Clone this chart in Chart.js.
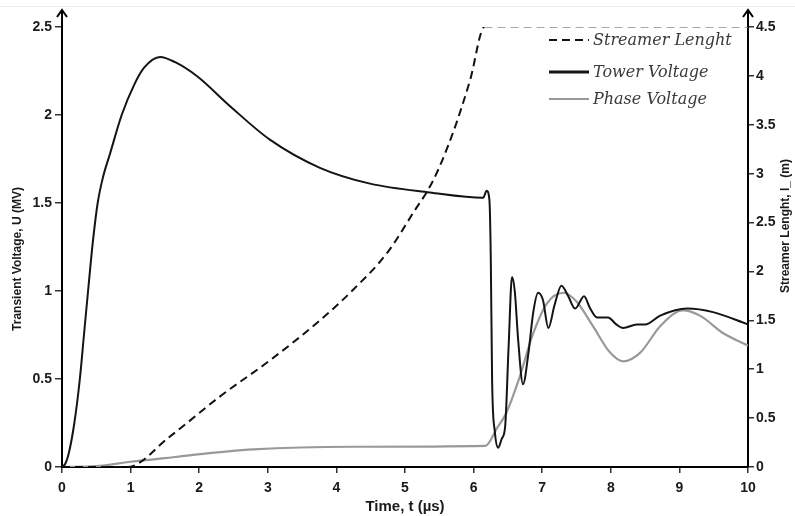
<!DOCTYPE html>
<html>
<head>
<meta charset="utf-8">
<script src="https://cdn.jsdelivr.net/npm/chart.js@4/dist/chart.umd.min.js"></script>
<style>
  body { margin: 0; background: #fff; }
  canvas { display: block; }
</style>
</head>
<body>
<canvas id="chart" width="795" height="516"></canvas>
<script>
// Tower voltage (MV) vs time (us)
let towerTime = [0, 0.05, 0.1, 0.18, 0.26, 0.32, 0.38, 0.45, 0.52, 0.6, 0.7, 0.87, 1.05, 1.2, 1.43, 1.65, 1.97, 2.45, 3.03, 3.76, 4.49, 5.36, 6.14, 6.19, 6.23, 6.25, 6.27, 6.31, 6.36, 6.41, 6.46, 6.51, 6.56, 6.60, 6.65, 6.72, 6.80, 6.87, 6.94, 7.01, 7.09, 7.18, 7.28, 7.38, 7.48, 7.61, 7.70, 7.80, 7.96, 8.08, 8.18, 8.38, 8.50, 8.72, 9.11, 9.49, 10];
let towerVoltage = [0, 0.02, 0.08, 0.25, 0.5, 0.75, 1.0, 1.28, 1.5, 1.65, 1.78, 2.0, 2.17, 2.27, 2.33, 2.30, 2.22, 2.05, 1.86, 1.70, 1.61, 1.56, 1.53, 1.57, 1.52, 1.20, 0.49, 0.20, 0.11, 0.16, 0.23, 0.68, 1.08, 1.00, 0.72, 0.47, 0.65, 0.88, 0.99, 0.95, 0.79, 0.92, 1.03, 0.97, 0.90, 0.97, 0.90, 0.85, 0.85, 0.81, 0.79, 0.81, 0.81, 0.86, 0.90, 0.88, 0.81];

// Phase voltage (MV)
let phaseTime = [0, 0.5, 1.0, 1.5, 1.82, 2.79, 4.24, 6.17, 6.34, 6.48, 6.67, 6.87, 7.07, 7.31, 7.50, 7.74, 7.99, 8.18, 8.43, 8.72, 9.05, 9.30, 9.64, 10];
let phaseVoltage = [0, 0.005, 0.03, 0.05, 0.065, 0.10, 0.115, 0.12, 0.22, 0.31, 0.51, 0.76, 0.93, 0.99, 0.94, 0.80, 0.65, 0.60, 0.65, 0.80, 0.89, 0.86, 0.76, 0.69];

// Streamer length (m), right axis
let streamerTime = [0, 0.95, 1.57, 2.30, 3.03, 3.76, 4.24, 4.74, 5.12, 5.41, 5.70, 5.95, 6.16, 10];
let streamerLength = [0, 0, 0.31, 0.72, 1.09, 1.50, 1.81, 2.19, 2.60, 2.93, 3.42, 3.96, 4.5, 4.5];

let legendLabels = ["Streamer Lenght", "Tower Voltage", "Phase Voltage"];
let xTitle = "Time, t (\u00b5s)";
let yLeftTitle = "Transient Voltage, U (MV)";
let yRightTitle = "Streamer Lenght, l_ (m)";

function toPoints(xs, ys) {
  let pts = [];
  for (let i = 0; i < xs.length; i++) {
    pts.push({ x: xs[i], y: ys[i] });
  }
  return pts;
}

const tickFont = { family: "'Liberation Sans', Arial, sans-serif", size: 14, weight: "bold" };

// white background + axis arrows, titles and the legend box
const decorations = {
  id: "decorations",
  beforeDraw(chart) {
    let ctx = chart.ctx;
    ctx.save();
    ctx.fillStyle = "#fff";
    ctx.fillRect(0, 0, chart.width, chart.height);
    ctx.strokeStyle = "#ececec";
    ctx.lineWidth = 1;
    ctx.beginPath();
    ctx.moveTo(0, 6.5);
    ctx.lineTo(chart.width, 6.5);
    ctx.stroke();
    ctx.restore();
  },
  afterDraw(chart) {
    let ctx = chart.ctx;
    let area = chart.chartArea;
    ctx.save();
    // arrows on both vertical axes
    ctx.strokeStyle = "#000";
    ctx.lineWidth = 2;
    [area.left, area.right].forEach(x => {
      ctx.beginPath();
      ctx.moveTo(x, area.top);
      ctx.lineTo(x, 10);
      ctx.stroke();
      ctx.beginPath();
      ctx.moveTo(x - 5, 17);
      ctx.lineTo(x, 10);
      ctx.lineTo(x + 5, 17);
      ctx.stroke();
    });

    // axis titles
    ctx.fillStyle = "#1a1a1a";
    ctx.textAlign = "center";
    ctx.textBaseline = "middle";
    ctx.font = "bold 15px 'Liberation Sans', Arial, sans-serif";
    ctx.fillText(xTitle, (area.left + area.right) / 2, 507);

    ctx.font = "bold 12px 'Liberation Sans', Arial, sans-serif";
    ctx.save();
    ctx.translate(18, 259);
    ctx.rotate(-Math.PI / 2);
    ctx.fillText(yLeftTitle, 0, 0);
    ctx.restore();
    ctx.save();
    ctx.translate(786, 226);
    ctx.rotate(-Math.PI / 2);
    ctx.fillText(yRightTitle, 0, 0);
    ctx.restore();

    // legend
    let rows = [40, 72, 99];
    ctx.font = "italic 16px 'DejaVu Serif', serif";
    ctx.textAlign = "left";
    ctx.fillStyle = "#3a3a3a";
    for (let i = 0; i < legendLabels.length; i++) {
      let ds = chart.data.datasets[i];
      ctx.beginPath();
      ctx.strokeStyle = ds.borderColor;
      ctx.lineWidth = i == 1 ? 3 : ds.borderWidth;
      ctx.setLineDash(ds.borderDash || []);
      ctx.moveTo(549, rows[i]);
      ctx.lineTo(589, rows[i]);
      ctx.stroke();
      ctx.setLineDash([]);
      ctx.fillText(legendLabels[i], 593, rows[i] + 1);
    }
    ctx.restore();
  }
};

const chart = new Chart(document.getElementById("chart").getContext("2d"), {
  type: "scatter",
  data: {
    datasets: [{
      label: legendLabels[0],
      data: toPoints(streamerTime, streamerLength),
      yAxisID: "y2",
      showLine: true,
      borderColor: "#111",
      borderWidth: 2,
      borderDash: [8, 5],
      pointRadius: 0,
      cubicInterpolationMode: "monotone",
      segment: {
        borderColor: c => (c.p0.parsed.y >= 4.5 && c.p1.parsed.y >= 4.5) ? "#8a8a8a" : undefined,
        borderWidth: c => (c.p0.parsed.y >= 4.5 && c.p1.parsed.y >= 4.5) ? 1.5 : undefined
      }
    },
    {
      label: legendLabels[1],
      data: toPoints(towerTime, towerVoltage),
      yAxisID: "y",
      showLine: true,
      borderColor: "#141414",
      borderWidth: 2,
      pointRadius: 0,
      cubicInterpolationMode: "monotone"
    },
    {
      label: legendLabels[2],
      data: toPoints(phaseTime, phaseVoltage),
      yAxisID: "y",
      showLine: true,
      borderColor: "#999",
      borderWidth: 2.2,
      pointRadius: 0,
      cubicInterpolationMode: "monotone"
    }]
  },
  options: {
    responsive: false,
    animation: false,
    events: [],
    layout: { padding: { top: 27, left: 0, right: 0, bottom: 0 } },
    plugins: { legend: { display: false }, tooltip: { enabled: false } },
    scales: {
      x: {
        type: "linear",
        min: 0,
        max: 10,
        afterFit(s) { s.height = 49; },
        border: { color: "#000", width: 2 },
        grid: { drawOnChartArea: false, drawTicks: true, tickLength: 6, color: "#333", lineWidth: 1.5 },
        ticks: { stepSize: 1, padding: 7, color: "#1a1a1a", font: tickFont, maxRotation: 0,
          callback: v => String(v) }
      },
      y: {
        position: "left",
        min: 0,
        max: 2.5,
        afterFit(s) { s.width = 62; },
        border: { color: "#000", width: 2 },
        grid: { drawOnChartArea: false, drawTicks: true, tickLength: 7, color: "#333", lineWidth: 1.5 },
        ticks: { stepSize: 0.5, padding: 3, color: "#1a1a1a", font: tickFont,
          callback: v => String(v) }
      },
      y2: {
        position: "right",
        min: 0,
        max: 4.5,
        afterFit(s) { s.width = 47; },
        border: { color: "#000", width: 2 },
        grid: { drawOnChartArea: false, drawTicks: true, tickLength: 6, color: "#333", lineWidth: 1.5 },
        ticks: { stepSize: 0.5, padding: 2, color: "#1a1a1a", font: tickFont,
          callback: v => String(v) }
      }
    }
  },
  plugins: [decorations]
});
</script>
</body>
</html>
